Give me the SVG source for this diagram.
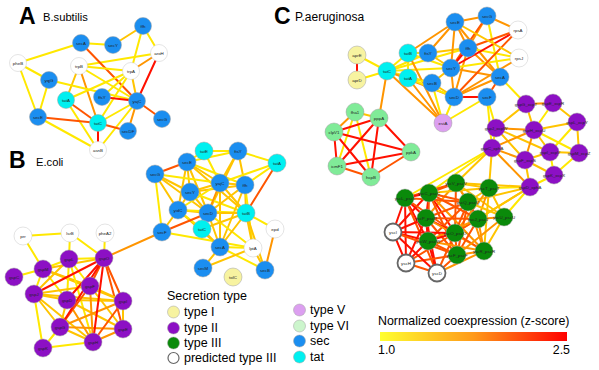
<svg xmlns="http://www.w3.org/2000/svg" width="599" height="370" viewBox="0 0 599 370">
<defs>
<linearGradient id="grad" x1="0" y1="0" x2="1" y2="0">
<stop offset="0" stop-color="#ffff30"/>
<stop offset="0.5" stop-color="#ff9a1a"/>
<stop offset="1" stop-color="#ff0000"/>
</linearGradient>
<style>
.c line{stroke-width:2;stroke-linecap:round}
.y{stroke:#ffe800}.g{stroke:#ffc400}.o{stroke:#ff9500}.f{stroke:#ff5500}.r{stroke:#ff1000}
circle{stroke:#a0a0a0;stroke-width:0.5}
.t1{fill:#f7f3a0}.t2{fill:#8c10c4}.t3{fill:#0a8a0a}.pt{fill:#fff;stroke:#666;stroke-width:1.8}
.t5{fill:#dc9ff0}.t6{fill:#80eb98}.sec{fill:#1b8ef0}.tat{fill:#00f0f0}.wh{fill:#fff;stroke:#c8c8c8}
.l6{fill:#ccf5cc}
.n text{font-family:"Liberation Sans",Arial,sans-serif;font-size:4.4px;fill:#222;text-anchor:middle;dominant-baseline:central}
.tt{font-family:"Liberation Sans",Arial,sans-serif;fill:#000}
.big{font-family:"Liberation Sans",Arial,sans-serif;font-weight:bold;font-size:23px;fill:#000}
</style>
</defs>
<rect width="599" height="370" fill="#fff"/>

<text class="big" x="19" y="24">A</text>
<text class="tt" x="43" y="21" font-size="11.2">B.subtilis</text>
<text class="big" x="9" y="168">B</text>
<text class="tt" x="36" y="166" font-size="11.2">E.coli</text>
<text class="big" x="274" y="24">C</text>
<text class="tt" x="295" y="21" font-size="12">P.aeruginosa</text>

<g id="connectors" class="c">
<line class="y" x1="81" y1="43" x2="113" y2="45"/>
<line class="g" x1="113" y1="45" x2="143" y2="26"/>
<line class="y" x1="143" y1="26" x2="159" y2="53"/>
<line class="y" x1="143" y1="26" x2="131" y2="71"/>
<line class="y" x1="159" y1="53" x2="79" y2="66"/>
<line class="o" x1="159" y1="53" x2="131" y2="71"/>
<line class="r" x1="159" y1="53" x2="137" y2="101"/>
<line class="y" x1="81" y1="43" x2="18" y2="63"/>
<line class="f" x1="81" y1="43" x2="137" y2="101"/>
<line class="y" x1="18" y1="63" x2="49" y2="80"/>
<line class="y" x1="18" y1="63" x2="38" y2="117"/>
<line class="y" x1="79" y1="66" x2="131" y2="71"/>
<line class="y" x1="79" y1="66" x2="137" y2="101"/>
<line class="g" x1="79" y1="66" x2="66" y2="100"/>
<line class="o" x1="79" y1="66" x2="98" y2="123"/>
<line class="y" x1="131" y1="71" x2="66" y2="100"/>
<line class="y" x1="131" y1="71" x2="102" y2="97"/>
<line class="g" x1="131" y1="71" x2="137" y2="101"/>
<line class="y" x1="131" y1="71" x2="98" y2="123"/>
<line class="y" x1="49" y1="80" x2="38" y2="117"/>
<line class="y" x1="49" y1="80" x2="137" y2="101"/>
<line class="r" x1="102" y1="97" x2="137" y2="101"/>
<line class="f" x1="137" y1="101" x2="162" y2="119"/>
<line class="o" x1="137" y1="101" x2="128" y2="131"/>
<line class="y" x1="137" y1="101" x2="98" y2="150"/>
<line class="y" x1="137" y1="101" x2="98" y2="123"/>
<line class="f" x1="66" y1="100" x2="98" y2="123"/>
<line class="y" x1="66" y1="100" x2="98" y2="150"/>
<line class="f" x1="38" y1="117" x2="98" y2="123"/>
<line class="f" x1="98" y1="123" x2="128" y2="131"/>
<line class="y" x1="38" y1="117" x2="98" y2="150"/>
<line class="r" x1="98" y1="123" x2="98" y2="150"/>

<line class="f" x1="187" y1="162" x2="155" y2="174"/>
<line class="y" x1="187" y1="162" x2="204" y2="151"/>
<line class="g" x1="187" y1="162" x2="220" y2="183"/>
<line class="g" x1="187" y1="162" x2="190" y2="192"/>
<line class="g" x1="187" y1="162" x2="178" y2="210"/>
<line class="g" x1="187" y1="162" x2="208" y2="213"/>
<line class="y" x1="187" y1="162" x2="245" y2="185"/>
<line class="g" x1="187" y1="162" x2="246" y2="213"/>
<line class="y" x1="187" y1="162" x2="238" y2="151"/>
<line class="y" x1="204" y1="151" x2="238" y2="151"/>
<line class="y" x1="204" y1="151" x2="220" y2="183"/>
<line class="g" x1="238" y1="151" x2="220" y2="183"/>
<line class="g" x1="238" y1="151" x2="245" y2="185"/>
<line class="y" x1="238" y1="151" x2="277" y2="163"/>
<line class="g" x1="238" y1="151" x2="208" y2="213"/>
<line class="y" x1="277" y1="163" x2="245" y2="185"/>
<line class="f" x1="277" y1="163" x2="246" y2="213"/>
<line class="y" x1="277" y1="163" x2="220" y2="183"/>
<line class="g" x1="155" y1="174" x2="190" y2="192"/>
<line class="y" x1="155" y1="174" x2="162" y2="232"/>
<line class="g" x1="155" y1="174" x2="178" y2="210"/>
<line class="g" x1="155" y1="174" x2="208" y2="213"/>
<line class="y" x1="155" y1="174" x2="220" y2="183"/>
<line class="g" x1="190" y1="192" x2="220" y2="183"/>
<line class="g" x1="190" y1="192" x2="208" y2="213"/>
<line class="g" x1="190" y1="192" x2="178" y2="210"/>
<line class="y" x1="190" y1="192" x2="246" y2="213"/>
<line class="g" x1="190" y1="192" x2="245" y2="185"/>
<line class="g" x1="220" y1="183" x2="245" y2="185"/>
<line class="o" x1="220" y1="183" x2="208" y2="213"/>
<line class="g" x1="220" y1="183" x2="246" y2="213"/>
<line class="g" x1="220" y1="183" x2="220" y2="247"/>
<line class="y" x1="220" y1="183" x2="178" y2="210"/>
<line class="g" x1="245" y1="185" x2="208" y2="213"/>
<line class="g" x1="245" y1="185" x2="246" y2="213"/>
<line class="g" x1="245" y1="185" x2="220" y2="247"/>
<line class="y" x1="245" y1="185" x2="253" y2="248"/>
<line class="g" x1="178" y1="210" x2="208" y2="213"/>
<line class="g" x1="178" y1="210" x2="162" y2="232"/>
<line class="y" x1="178" y1="210" x2="246" y2="213"/>
<line class="g" x1="178" y1="210" x2="220" y2="247"/>
<line class="y" x1="178" y1="210" x2="202" y2="229"/>
<line class="g" x1="208" y1="213" x2="246" y2="213"/>
<line class="f" x1="208" y1="213" x2="162" y2="232"/>
<line class="g" x1="208" y1="213" x2="202" y2="229"/>
<line class="g" x1="208" y1="213" x2="220" y2="247"/>
<line class="y" x1="208" y1="213" x2="253" y2="248"/>
<line class="g" x1="246" y1="213" x2="202" y2="229"/>
<line class="g" x1="246" y1="213" x2="220" y2="247"/>
<line class="g" x1="246" y1="213" x2="253" y2="248"/>
<line class="y" x1="246" y1="213" x2="275" y2="229"/>
<line class="g" x1="246" y1="213" x2="265" y2="270"/>
<line class="y" x1="162" y1="232" x2="253" y2="248"/>
<line class="g" x1="202" y1="229" x2="220" y2="247"/>
<line class="y" x1="220" y1="247" x2="253" y2="248"/>
<line class="g" x1="220" y1="247" x2="203" y2="268"/>
<line class="y" x1="220" y1="247" x2="265" y2="270"/>
<line class="g" x1="203" y1="268" x2="253" y2="248"/>
<line class="g" x1="253" y1="248" x2="265" y2="270"/>
<line class="o" x1="275" y1="229" x2="265" y2="270"/>
<line class="o" x1="162" y1="232" x2="104" y2="258"/>

<line class="y" x1="23" y1="236" x2="70" y2="233"/>
<line class="y" x1="70" y1="233" x2="69" y2="259"/>
<line class="y" x1="70" y1="233" x2="104" y2="258"/>
<line class="y" x1="105" y1="233" x2="104" y2="258"/>
<line class="y" x1="23" y1="236" x2="43" y2="269"/>
<line class="y" x1="104" y1="258" x2="69" y2="259"/>
<line class="g" x1="104" y1="258" x2="43" y2="269"/>
<line class="f" x1="104" y1="258" x2="90" y2="286"/>
<line class="f" x1="104" y1="258" x2="123" y2="301"/>
<line class="f" x1="104" y1="258" x2="123" y2="329"/>
<line class="y" x1="43" y1="269" x2="14" y2="277"/>
<line class="y" x1="43" y1="269" x2="34" y2="294"/>
<line class="g" x1="43" y1="269" x2="90" y2="286"/>
<line class="y" x1="43" y1="269" x2="67" y2="300"/>
<line class="g" x1="43" y1="269" x2="123" y2="301"/>
<line class="g" x1="69" y1="259" x2="34" y2="294"/>
<line class="y" x1="69" y1="259" x2="67" y2="300"/>
<line class="y" x1="69" y1="259" x2="90" y2="286"/>
<line class="y" x1="69" y1="259" x2="43" y2="269"/>
<line class="y" x1="69" y1="259" x2="93" y2="342"/>
<line class="g" x1="34" y1="294" x2="123" y2="301"/>
<line class="g" x1="34" y1="294" x2="67" y2="300"/>
<line class="g" x1="34" y1="294" x2="60" y2="327"/>
<line class="y" x1="34" y1="294" x2="43" y2="348"/>
<line class="g" x1="34" y1="294" x2="90" y2="286"/>
<line class="g" x1="34" y1="294" x2="93" y2="342"/>
<line class="g" x1="67" y1="300" x2="123" y2="301"/>
<line class="g" x1="67" y1="300" x2="60" y2="327"/>
<line class="o" x1="67" y1="300" x2="93" y2="342"/>
<line class="g" x1="67" y1="300" x2="123" y2="329"/>
<line class="f" x1="90" y1="286" x2="60" y2="327"/>
<line class="g" x1="90" y1="286" x2="123" y2="301"/>
<line class="o" x1="90" y1="286" x2="93" y2="342"/>
<line class="g" x1="90" y1="286" x2="123" y2="329"/>
<line class="g" x1="60" y1="327" x2="93" y2="342"/>
<line class="y" x1="60" y1="327" x2="43" y2="348"/>
<line class="o" x1="60" y1="327" x2="123" y2="301"/>
<line class="o" x1="60" y1="327" x2="123" y2="329"/>
<line class="o" x1="93" y1="342" x2="123" y2="329"/>
<line class="f" x1="93" y1="342" x2="123" y2="301"/>
<line class="y" x1="43" y1="348" x2="93" y2="342"/>
<line class="g" x1="123" y1="301" x2="123" y2="329"/>
<line class="r" x1="104" y1="258" x2="34" y2="294"/>
<line class="r" x1="104" y1="258" x2="67" y2="300"/>
<line class="r" x1="104" y1="258" x2="60" y2="327"/>
<line class="r" x1="104" y1="258" x2="93" y2="342"/>

<line class="r" x1="357" y1="55" x2="357" y2="80"/>
<line class="y" x1="357" y1="55" x2="387" y2="71"/>
<line class="y" x1="357" y1="80" x2="387" y2="71"/>
<line class="y" x1="387" y1="71" x2="408" y2="53"/>
<line class="y" x1="387" y1="71" x2="408" y2="78"/>
<line class="y" x1="387" y1="71" x2="428" y2="53"/>
<line class="y" x1="387" y1="71" x2="451" y2="68"/>
<line class="o" x1="387" y1="71" x2="379" y2="118"/>
<line class="y" x1="387" y1="71" x2="468" y2="48"/>
<line class="y" x1="387" y1="71" x2="432" y2="83"/>
<line class="o" x1="387" y1="71" x2="454" y2="97"/>
<line class="o" x1="387" y1="71" x2="443" y2="123"/>
<line class="y" x1="408" y1="53" x2="408" y2="78"/>
<line class="y" x1="408" y1="53" x2="428" y2="53"/>
<line class="o" x1="408" y1="53" x2="455" y2="22"/>
<line class="y" x1="408" y1="53" x2="451" y2="68"/>
<line class="o" x1="428" y1="53" x2="455" y2="22"/>
<line class="g" x1="428" y1="53" x2="451" y2="68"/>
<line class="g" x1="428" y1="53" x2="468" y2="48"/>
<line class="o" x1="455" y1="22" x2="487" y2="16"/>
<line class="o" x1="455" y1="22" x2="468" y2="48"/>
<line class="o" x1="455" y1="22" x2="451" y2="68"/>
<line class="o" x1="455" y1="22" x2="500" y2="77"/>
<line class="o" x1="487" y1="16" x2="468" y2="48"/>
<line class="o" x1="487" y1="16" x2="518" y2="30"/>
<line class="y" x1="487" y1="16" x2="500" y2="77"/>
<line class="f" x1="487" y1="16" x2="451" y2="68"/>
<line class="f" x1="468" y1="48" x2="518" y2="30"/>
<line class="y" x1="468" y1="48" x2="519" y2="58"/>
<line class="r" x1="468" y1="48" x2="451" y2="68"/>
<line class="o" x1="468" y1="48" x2="500" y2="77"/>
<line class="o" x1="468" y1="48" x2="454" y2="97"/>
<line class="g" x1="451" y1="68" x2="432" y2="83"/>
<line class="o" x1="451" y1="68" x2="454" y2="97"/>
<line class="o" x1="451" y1="68" x2="500" y2="77"/>
<line class="r" x1="451" y1="68" x2="518" y2="30"/>
<line class="y" x1="451" y1="68" x2="519" y2="58"/>
<line class="g" x1="432" y1="83" x2="454" y2="97"/>
<line class="y" x1="432" y1="83" x2="443" y2="123"/>
<line class="r" x1="454" y1="97" x2="487" y2="97"/>
<line class="o" x1="454" y1="97" x2="500" y2="77"/>
<line class="y" x1="454" y1="97" x2="443" y2="123"/>
<line class="f" x1="487" y1="97" x2="500" y2="77"/>
<line class="f" x1="518" y1="30" x2="454" y2="97"/>
<line class="o" x1="519" y1="58" x2="454" y2="97"/>
<line class="g" x1="519" y1="58" x2="455" y2="22"/>
<line class="o" x1="408" y1="78" x2="443" y2="123"/>
<line class="o" x1="408" y1="53" x2="443" y2="123"/>
<line class="y" x1="408" y1="78" x2="432" y2="83"/>
<line class="y" x1="487" y1="97" x2="443" y2="123"/>
<line class="y" x1="500" y1="77" x2="526" y2="104"/>
<line class="y" x1="487" y1="97" x2="496" y2="128"/>
<line class="y" x1="487" y1="97" x2="492" y2="148"/>
<line class="y" x1="454" y1="97" x2="408" y2="78"/>

<line class="g" x1="355" y1="112" x2="379" y2="118"/>
<line class="o" x1="355" y1="112" x2="334" y2="132"/>
<line class="y" x1="355" y1="112" x2="337" y2="166"/>
<line class="y" x1="355" y1="112" x2="371" y2="177"/>
<line class="r" x1="379" y1="118" x2="334" y2="132"/>
<line class="r" x1="379" y1="118" x2="337" y2="166"/>
<line class="r" x1="379" y1="118" x2="371" y2="177"/>
<line class="r" x1="379" y1="118" x2="411" y2="152"/>
<line class="r" x1="334" y1="132" x2="411" y2="152"/>
<line class="r" x1="334" y1="132" x2="337" y2="166"/>
<line class="r" x1="334" y1="132" x2="371" y2="177"/>
<line class="r" x1="337" y1="166" x2="411" y2="152"/>
<line class="f" x1="337" y1="166" x2="371" y2="177"/>
<line class="f" x1="371" y1="177" x2="411" y2="152"/>

<line class="o" x1="526" y1="104" x2="553" y2="103"/>
<line class="g" x1="526" y1="104" x2="496" y2="128"/>
<line class="g" x1="526" y1="104" x2="534" y2="130"/>
<line class="y" x1="553" y1="103" x2="534" y2="130"/>
<line class="g" x1="553" y1="103" x2="577" y2="122"/>
<line class="o" x1="496" y1="128" x2="534" y2="130"/>
<line class="y" x1="496" y1="128" x2="492" y2="148"/>
<line class="g" x1="496" y1="128" x2="525" y2="160"/>
<line class="g" x1="496" y1="128" x2="550" y2="152"/>
<line class="g" x1="534" y1="130" x2="577" y2="122"/>
<line class="g" x1="534" y1="130" x2="550" y2="152"/>
<line class="o" x1="534" y1="130" x2="525" y2="160"/>
<line class="y" x1="534" y1="130" x2="579" y2="153"/>
<line class="g" x1="577" y1="122" x2="579" y2="153"/>
<line class="y" x1="577" y1="122" x2="550" y2="152"/>
<line class="g" x1="550" y1="152" x2="579" y2="153"/>
<line class="g" x1="550" y1="152" x2="525" y2="160"/>
<line class="y" x1="550" y1="152" x2="554" y2="175"/>
<line class="g" x1="525" y1="160" x2="554" y2="175"/>
<line class="o" x1="525" y1="160" x2="492" y2="148"/>
<line class="g" x1="525" y1="160" x2="530" y2="187"/>
<line class="y" x1="579" y1="153" x2="554" y2="175"/>
<line class="o" x1="492" y1="148" x2="530" y2="187"/>
<line class="o" x1="492" y1="148" x2="534" y2="130"/>
<line class="y" x1="554" y1="175" x2="530" y2="187"/>

<line class="g" x1="492" y1="148" x2="456" y2="183"/>
<line class="y" x1="492" y1="148" x2="429" y2="193"/>
<line class="g" x1="492" y1="148" x2="489" y2="188"/>
<line class="y" x1="492" y1="148" x2="405" y2="198"/>
<line class="y" x1="530" y1="187" x2="489" y2="188"/>
<line class="g" x1="530" y1="187" x2="456" y2="183"/>
<line class="g" x1="530" y1="187" x2="468" y2="202"/>
<line class="y" x1="530" y1="187" x2="504" y2="217"/>
<line class="g" x1="530" y1="187" x2="478" y2="219"/>
<line class="g" x1="530" y1="187" x2="455" y2="233"/>

<line class="g" x1="456" y1="183" x2="489" y2="188"/>
<line class="f" x1="456" y1="183" x2="429" y2="193"/>
<line class="o" x1="456" y1="183" x2="468" y2="202"/>
<line class="f" x1="456" y1="183" x2="405" y2="198"/>
<line class="o" x1="456" y1="183" x2="426" y2="218"/>
<line class="o" x1="456" y1="183" x2="478" y2="219"/>
<line class="f" x1="456" y1="183" x2="455" y2="233"/>
<line class="g" x1="456" y1="183" x2="504" y2="217"/>
<line class="g" x1="489" y1="188" x2="468" y2="202"/>
<line class="g" x1="489" y1="188" x2="504" y2="217"/>
<line class="o" x1="489" y1="188" x2="478" y2="219"/>
<line class="g" x1="489" y1="188" x2="429" y2="193"/>
<line class="o" x1="489" y1="188" x2="455" y2="233"/>
<line class="g" x1="489" y1="188" x2="484" y2="251"/>
<line class="r" x1="429" y1="193" x2="405" y2="198"/>
<line class="f" x1="429" y1="193" x2="468" y2="202"/>
<line class="r" x1="429" y1="193" x2="426" y2="218"/>
<line class="f" x1="429" y1="193" x2="478" y2="219"/>
<line class="r" x1="429" y1="193" x2="455" y2="233"/>
<line class="f" x1="429" y1="193" x2="428" y2="241"/>
<line class="r" x1="429" y1="193" x2="393" y2="232"/>
<line class="f" x1="429" y1="193" x2="457" y2="255"/>
<line class="o" x1="429" y1="193" x2="484" y2="251"/>
<line class="r" x1="405" y1="198" x2="426" y2="218"/>
<line class="r" x1="405" y1="198" x2="393" y2="232"/>
<line class="r" x1="405" y1="198" x2="428" y2="241"/>
<line class="r" x1="405" y1="198" x2="406" y2="263"/>
<line class="f" x1="405" y1="198" x2="455" y2="233"/>
<line class="f" x1="405" y1="198" x2="468" y2="202"/>
<line class="f" x1="405" y1="198" x2="437" y2="273"/>
<line class="f" x1="468" y1="202" x2="426" y2="218"/>
<line class="f" x1="468" y1="202" x2="478" y2="219"/>
<line class="f" x1="468" y1="202" x2="455" y2="233"/>
<line class="g" x1="468" y1="202" x2="504" y2="217"/>
<line class="o" x1="468" y1="202" x2="484" y2="251"/>
<line class="f" x1="468" y1="202" x2="457" y2="255"/>
<line class="f" x1="468" y1="202" x2="428" y2="241"/>
<line class="f" x1="426" y1="218" x2="478" y2="219"/>
<line class="r" x1="426" y1="218" x2="455" y2="233"/>
<line class="r" x1="426" y1="218" x2="428" y2="241"/>
<line class="r" x1="426" y1="218" x2="393" y2="232"/>
<line class="r" x1="426" y1="218" x2="406" y2="263"/>
<line class="r" x1="426" y1="218" x2="437" y2="273"/>
<line class="f" x1="426" y1="218" x2="457" y2="255"/>
<line class="o" x1="426" y1="218" x2="484" y2="251"/>
<line class="f" x1="478" y1="219" x2="455" y2="233"/>
<line class="o" x1="478" y1="219" x2="504" y2="217"/>
<line class="o" x1="478" y1="219" x2="484" y2="251"/>
<line class="f" x1="478" y1="219" x2="457" y2="255"/>
<line class="o" x1="478" y1="219" x2="428" y2="241"/>
<line class="r" x1="455" y1="233" x2="428" y2="241"/>
<line class="f" x1="455" y1="233" x2="457" y2="255"/>
<line class="f" x1="455" y1="233" x2="484" y2="251"/>
<line class="f" x1="455" y1="233" x2="406" y2="263"/>
<line class="f" x1="455" y1="233" x2="437" y2="273"/>
<line class="r" x1="455" y1="233" x2="393" y2="232"/>
<line class="g" x1="504" y1="217" x2="484" y2="251"/>
<line class="o" x1="504" y1="217" x2="457" y2="255"/>
<line class="r" x1="428" y1="241" x2="393" y2="232"/>
<line class="r" x1="428" y1="241" x2="406" y2="263"/>
<line class="r" x1="428" y1="241" x2="437" y2="273"/>
<line class="f" x1="428" y1="241" x2="457" y2="255"/>
<line class="o" x1="484" y1="251" x2="457" y2="255"/>
<line class="o" x1="484" y1="251" x2="437" y2="273"/>
<line class="f" x1="457" y1="255" x2="437" y2="273"/>
<line class="f" x1="457" y1="255" x2="406" y2="263"/>
<line class="r" x1="393" y1="232" x2="406" y2="263"/>
<line class="r" x1="393" y1="232" x2="437" y2="273"/>
<line class="f" x1="406" y1="263" x2="437" y2="273"/>
<line class="o" x1="484" y1="251" x2="428" y2="241"/>
<line class="f" x1="393" y1="232" x2="457" y2="255"/>
</g>

<g class="n">
<g id="A-secA"><circle class="sec" cx="81" cy="43" r="8.5"/><text x="81" y="43">secA</text></g>
<g id="A-secY"><circle class="sec" cx="113" cy="45" r="8.5"/><text x="113" y="45">secY</text></g>
<g id="A-ffh"><circle class="sec" cx="143" cy="26" r="8.5"/><text x="143" y="26">ffh</text></g>
<g id="A-aroH"><circle class="wh" cx="159" cy="53" r="8.5"/><text x="159" y="53">aroH</text></g>
<g id="A-pheB"><circle class="wh" cx="18" cy="63" r="8.5"/><text x="18" y="63">pheB</text></g>
<g id="A-trpB"><circle class="wh" cx="79" cy="66" r="8.5"/><text x="79" y="66">trpB</text></g>
<g id="A-trpA"><circle class="wh" cx="131" cy="71" r="8.5"/><text x="131" y="71">trpA</text></g>
<g id="A-yqjG"><circle class="sec" cx="49" cy="80" r="8.5"/><text x="49" y="80">yqjG</text></g>
<g id="A-tatA"><circle class="tat" cx="66" cy="100" r="8.5"/><text x="66" y="100">tatA</text></g>
<g id="A-flsY"><circle class="sec" cx="102" cy="97" r="8.5"/><text x="102" y="97">ffsY</text></g>
<g id="A-yajC"><circle class="sec" cx="137" cy="101" r="8.5"/><text x="137" y="101">yajC</text></g>
<g id="A-secG"><circle class="sec" cx="162" cy="119" r="8.5"/><text x="162" y="119">secG</text></g>
<g id="A-secE"><circle class="sec" cx="38" cy="117" r="8.5"/><text x="38" y="117">secE</text></g>
<g id="A-tatC"><circle class="tat" cx="98" cy="123" r="8.5"/><text x="98" y="123">tatC</text></g>
<g id="A-secDF"><circle class="sec" cx="128" cy="131" r="8.5"/><text x="128" y="131">secDF</text></g>
<g id="A-asnB"><circle class="wh" cx="98" cy="150" r="8.5"/><text x="98" y="150">asnB</text></g>
</g>

<g class="n">
<g id="B-secE"><circle class="sec" cx="187" cy="162" r="9"/><text x="187" y="162">secE</text></g>
<g id="B-tatE"><circle class="tat" cx="204" cy="151" r="9"/><text x="204" y="151">tatE</text></g>
<g id="B-flsY"><circle class="sec" cx="238" cy="151" r="9"/><text x="238" y="151">ftsY</text></g>
<g id="B-tatA"><circle class="tat" cx="277" cy="163" r="9"/><text x="277" y="163">tatA</text></g>
<g id="B-secG"><circle class="sec" cx="155" cy="174" r="9"/><text x="155" y="174">secG</text></g>
<g id="B-yajC"><circle class="sec" cx="220" cy="183" r="9"/><text x="220" y="183">yajC</text></g>
<g id="B-ffh"><circle class="sec" cx="245" cy="185" r="9"/><text x="245" y="185">ffh</text></g>
<g id="B-secY"><circle class="sec" cx="190" cy="192" r="9"/><text x="190" y="192">secY</text></g>
<g id="B-yidC"><circle class="sec" cx="178" cy="210" r="9"/><text x="178" y="210">yidC</text></g>
<g id="B-secD"><circle class="sec" cx="208" cy="213" r="9"/><text x="208" y="213">secD</text></g>
<g id="B-tatB"><circle class="tat" cx="246" cy="213" r="9"/><text x="246" y="213">tatB</text></g>
<g id="B-secF"><circle class="sec" cx="162" cy="232" r="9"/><text x="162" y="232">secF</text></g>
<g id="B-tatC"><circle class="tat" cx="202" cy="229" r="9"/><text x="202" y="229">tatC</text></g>
<g id="B-epd"><circle class="wh" cx="275" cy="229" r="9"/><text x="275" y="229">epd</text></g>
<g id="B-secA"><circle class="sec" cx="220" cy="247" r="9"/><text x="220" y="247">secA</text></g>
<g id="B-lptA"><circle class="wh" cx="253" cy="248" r="9"/><text x="253" y="248">lptA</text></g>
<g id="B-secM"><circle class="sec" cx="203" cy="268" r="9"/><text x="203" y="268">secM</text></g>
<g id="B-tolC"><circle class="t1" cx="233" cy="277" r="9"/><text x="233" y="277">tolC</text></g>
<g id="B-secB"><circle class="sec" cx="265" cy="270" r="9"/><text x="265" y="270">secB</text></g>
<g id="B-prr"><circle class="wh" cx="23" cy="236" r="9"/><text x="23" y="236">prr</text></g>
<g id="B-lsrB"><circle class="wh" cx="70" cy="233" r="9"/><text x="70" y="233">lsrB</text></g>
<g id="B-pheA2"><circle class="wh" cx="105" cy="233" r="9"/><text x="105" y="233">pheA2</text></g>
<g id="B-gspL"><circle class="t2" cx="69" cy="259" r="9"/><text x="69" y="259">gspL</text></g>
<g id="B-gspO"><circle class="t2" cx="104" cy="258" r="9"/><text x="104" y="258">gspO</text></g>
<g id="B-gspM"><circle class="t2" cx="43" cy="269" r="9"/><text x="43" y="269">gspM</text></g>
<g id="B-gspC"><circle class="t2" cx="14" cy="277" r="9"/><text x="14" y="277">gspC</text></g>
<g id="B-gspF"><circle class="t2" cx="90" cy="286" r="9"/><text x="90" y="286">gspF</text></g>
<g id="B-gspJ"><circle class="t2" cx="34" cy="294" r="9"/><text x="34" y="294">gspJ</text></g>
<g id="B-gspD"><circle class="t2" cx="67" cy="300" r="9"/><text x="67" y="300">gspD</text></g>
<g id="B-gspI"><circle class="t2" cx="123" cy="301" r="9"/><text x="123" y="301">gspI</text></g>
<g id="B-gspG"><circle class="t2" cx="60" cy="327" r="9"/><text x="60" y="327">gspG</text></g>
<g id="B-gspE"><circle class="t2" cx="123" cy="329" r="9"/><text x="123" y="329">gspE</text></g>
<g id="B-gspH"><circle class="t2" cx="93" cy="342" r="9"/><text x="93" y="342">gspH</text></g>
<g id="B-gspK"><circle class="t2" cx="43" cy="348" r="9"/><text x="43" y="348">gspK</text></g>
</g>

<g class="n">
<g id="C-secE"><circle class="sec" cx="455" cy="22" r="9"/><text x="455" y="22">secE</text></g>
<g id="C-secG"><circle class="sec" cx="487" cy="16" r="9"/><text x="487" y="16">secG</text></g>
<g id="C-tatB"><circle class="tat" cx="408" cy="53" r="9"/><text x="408" y="53">tatB</text></g>
<g id="C-flsY"><circle class="sec" cx="428" cy="53" r="9"/><text x="428" y="53">ftsY</text></g>
<g id="C-ffh"><circle class="sec" cx="468" cy="48" r="9"/><text x="468" y="48">ffh</text></g>
<g id="C-aprE"><circle class="t1" cx="357" cy="55" r="9"/><text x="357" y="55">aprE</text></g>
<g id="C-tatC"><circle class="tat" cx="387" cy="71" r="9"/><text x="387" y="71">tatC</text></g>
<g id="C-secY"><circle class="sec" cx="451" cy="68" r="9"/><text x="451" y="68">secY</text></g>
<g id="C-tatA"><circle class="tat" cx="408" cy="78" r="9"/><text x="408" y="78">tatA</text></g>
<g id="C-secB"><circle class="sec" cx="432" cy="83" r="9"/><text x="432" y="83">secB</text></g>
<g id="C-secD"><circle class="sec" cx="454" cy="97" r="9"/><text x="454" y="97">secD</text></g>
<g id="C-secF"><circle class="sec" cx="487" cy="97" r="9"/><text x="487" y="97">secF</text></g>
<g id="C-secA"><circle class="sec" cx="500" cy="77" r="9"/><text x="500" y="77">secA</text></g>
<g id="C-rpsA"><circle class="wh" cx="518" cy="30" r="9"/><text x="518" y="30">rpsA</text></g>
<g id="C-rpsJ"><circle class="wh" cx="519" cy="58" r="9"/><text x="519" y="58">rpsJ</text></g>
<g id="C-aprD"><circle class="t1" cx="357" cy="80" r="9"/><text x="357" y="80">aprD</text></g>
<g id="C-estA"><circle class="t5" cx="443" cy="123" r="9"/><text x="443" y="123">estA</text></g>
<g id="C-fha1"><circle class="t6" cx="355" cy="112" r="9"/><text x="355" y="112">fha1</text></g>
<g id="C-pppA"><circle class="t6" cx="379" cy="118" r="9"/><text x="379" y="118">pppA</text></g>
<g id="C-clpV1"><circle class="t6" cx="334" cy="132" r="9"/><text x="334" y="132">clpV1</text></g>
<g id="C-icmF1"><circle class="t6" cx="337" cy="166" r="9"/><text x="337" y="166">icmF1</text></g>
<g id="C-hcpB"><circle class="t6" cx="371" cy="177" r="9"/><text x="371" y="177">hcpB</text></g>
<g id="C-ppkA"><circle class="t6" cx="411" cy="152" r="9"/><text x="411" y="152">ppkA</text></g>
<g id="C-gspG"><circle class="t2" cx="526" cy="104" r="9"/><text x="526" y="104">gspG_xcpT</text></g>
<g id="C-gspE"><circle class="t2" cx="553" cy="103" r="9"/><text x="553" y="103">gspE_xcpR</text></g>
<g id="C-gspJ"><circle class="t2" cx="496" cy="128" r="9"/><text x="496" y="128">gspJ_xcpW</text></g>
<g id="C-gspH"><circle class="t2" cx="534" cy="130" r="9"/><text x="534" y="130">gspH_xcpU</text></g>
<g id="C-gspL"><circle class="t2" cx="577" cy="122" r="9"/><text x="577" y="122">gspL_xcpY</text></g>
<g id="C-gspC"><circle class="t2" cx="492" cy="148" r="9"/><text x="492" y="148">gspC_xphA</text></g>
<g id="C-gspI"><circle class="t2" cx="550" cy="152" r="9"/><text x="550" y="152">gspI_xcpV</text></g>
<g id="C-gspM"><circle class="t2" cx="579" cy="153" r="9"/><text x="579" y="153">gspM_xcpZ</text></g>
<g id="C-gspF"><circle class="t2" cx="525" cy="160" r="9"/><text x="525" y="160">gspF_xcpS</text></g>
<g id="C-gspK"><circle class="t2" cx="554" cy="175" r="9"/><text x="554" y="175">gspK_xcpX</text></g>
<g id="C-gspD"><circle class="t2" cx="530" cy="187" r="9"/><text x="530" y="187">gspD_xphA</text></g>
<g id="C-yscV"><circle class="t3" cx="456" cy="183" r="9"/><text x="456" y="183">yscV_pscV</text></g>
<g id="C-yscT"><circle class="t3" cx="489" cy="188" r="9"/><text x="489" y="188">yscT_pscT</text></g>
<g id="C-yscC"><circle class="t3" cx="429" cy="193" r="9"/><text x="429" y="193">yscC_pscC</text></g>
<g id="C-yscL"><circle class="t3" cx="405" cy="198" r="9"/><text x="405" y="198">yscL_pscL</text></g>
<g id="C-yscQ"><circle class="t3" cx="468" cy="202" r="9"/><text x="468" y="202">yscQ_pscQ</text></g>
<g id="C-yscU"><circle class="t3" cx="504" cy="217" r="9"/><text x="504" y="217">yscU_pscU</text></g>
<g id="C-yscP"><circle class="t3" cx="426" cy="218" r="9"/><text x="426" y="218">yscP_pscP</text></g>
<g id="C-yscJ"><circle class="t3" cx="478" cy="219" r="9"/><text x="478" y="219">yscJ_pscJ</text></g>
<g id="C-yscI"><circle class="pt" cx="393" cy="232" r="8.5"/><text x="393" y="232">yscI</text></g>
<g id="C-yscO"><circle class="t3" cx="455" cy="233" r="9"/><text x="455" y="233">yscO_pscO</text></g>
<g id="C-yscW"><circle class="t3" cx="428" cy="241" r="9"/><text x="428" y="241">yscW_pscW</text></g>
<g id="C-yscR"><circle class="t3" cx="484" cy="251" r="9"/><text x="484" y="251">yscR_pscR</text></g>
<g id="C-yscF"><circle class="t3" cx="457" cy="255" r="9"/><text x="457" y="255">yscF_pscF</text></g>
<g id="C-yscH"><circle class="pt" cx="406" cy="263" r="8.5"/><text x="406" y="263">yscH</text></g>
<g id="C-yscD"><circle class="pt" cx="437" cy="273" r="8.5"/><text x="437" y="273">yscD</text></g>
</g>

<g id="legend">
<text class="tt" x="167" y="300" font-size="12.5">Secretion type</text>
<circle class="t1" cx="173.5" cy="312" r="6"/><text class="tt" x="184" y="316" font-size="12.5">type I</text>
<circle class="t2" cx="173.5" cy="328" r="6"/><text class="tt" x="184" y="332" font-size="12.5">type II</text>
<circle class="t3" cx="173.5" cy="343" r="6"/><text class="tt" x="184" y="347" font-size="12.5">type III</text>
<circle class="pt" cx="173.5" cy="358" r="5.5" style="stroke-width:1.2"/><text class="tt" x="184" y="362" font-size="12.5">predicted type III</text>
<circle class="t5" cx="299.5" cy="310" r="6"/><text class="tt" x="310" y="314" font-size="12.5">type V</text>
<circle class="l6" cx="299.5" cy="326" r="6"/><text class="tt" x="310" y="330" font-size="12.5">type VI</text>
<circle class="sec" cx="299.5" cy="341" r="6"/><text class="tt" x="310" y="345" font-size="12.5">sec</text>
<circle class="tat" cx="299.5" cy="357" r="6"/><text class="tt" x="310" y="361" font-size="12.5">tat</text>
</g>
<g id="colorbar">
<text class="tt" x="378" y="325" font-size="12.4">Normalized coexpression (z-score)</text>
<rect x="380" y="332" width="187" height="9" fill="url(#grad)"/>
<text class="tt" x="378" y="354" font-size="12.4">1.0</text>
<text class="tt" x="570" y="354" font-size="12.4" text-anchor="end">2.5</text>
</g>
</svg>
